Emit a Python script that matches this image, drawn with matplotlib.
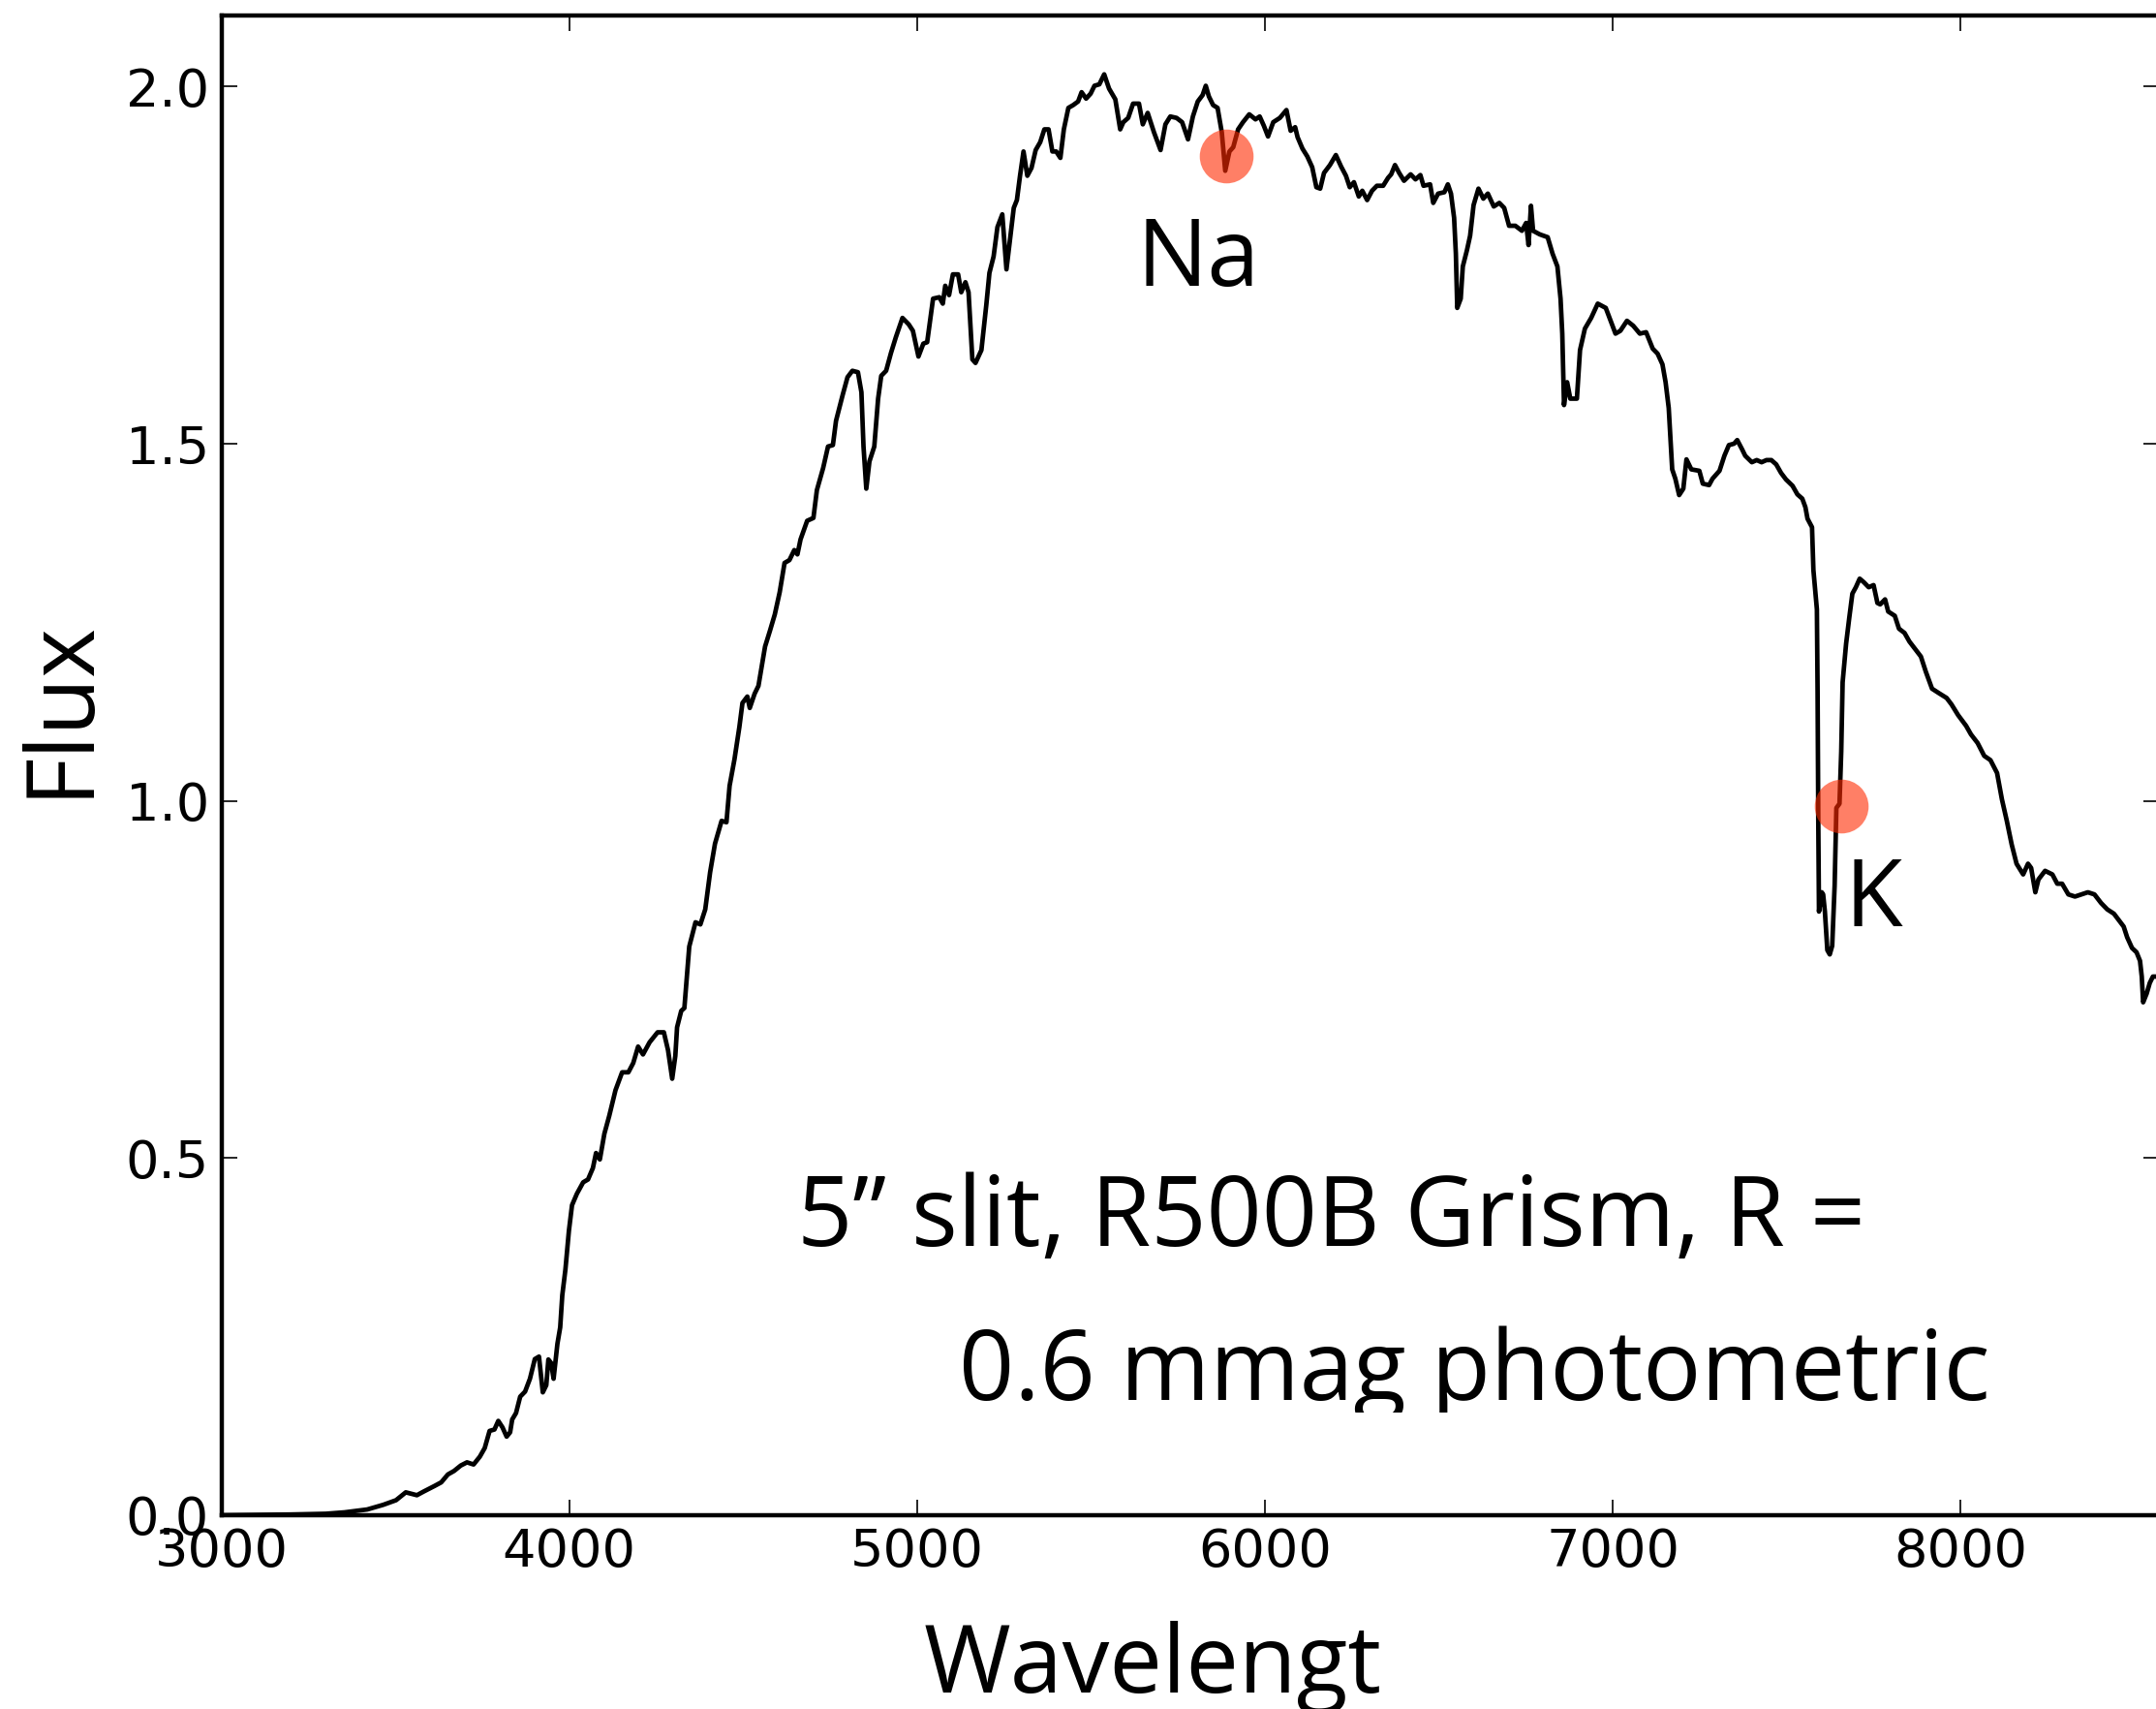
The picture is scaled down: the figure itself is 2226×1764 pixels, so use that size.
import matplotlib
matplotlib.use("Agg")
import matplotlib.pyplot as plt
from matplotlib.transforms import Bbox, TransformedBbox

# spectrum
wavelength = [3000, 3100, 3200, 3300, 3354, 3419, 3465, 3502, 3530, 3562, 3581, 3613, 3632,
              3651, 3669, 3688, 3706, 3725, 3743, 3757, 3771, 3785, 3796, 3808, 3820, 3830,
              3836, 3847, 3859, 3873, 3887, 3901, 3913, 3924, 3934, 3940, 3948, 3955, 3966,
              3974, 3980, 3989, 3999, 4008, 4022, 4040, 4054, 4068, 4077, 4088, 4101, 4115,
              4133, 4152, 4170, 4184, 4198, 4212, 4231, 4254, 4272, 4284, 4296, 4305, 4310,
              4322, 4331, 4345, 4363, 4377, 4391, 4405, 4419, 4438, 4452, 4461, 4475, 4489,
              4498, 4512, 4519, 4533, 4544, 4563, 4577, 4591, 4605, 4619, 4633, 4647, 4656,
              4665, 4684, 4702, 4712, 4730, 4744, 4758, 4767, 4786, 4800, 4814, 4830, 4840,
              4846, 4854, 4863, 4877, 4888, 4897, 4911, 4925, 4939, 4958, 4976, 4988, 5004,
              5018, 5029, 5046, 5064, 5074, 5081, 5092, 5103, 5118, 5127, 5139, 5148, 5159,
              5168, 5185, 5199, 5208, 5220, 5231, 5245, 5257, 5267, 5278, 5287, 5296, 5306,
              5317, 5329, 5341, 5354, 5366, 5378, 5389, 5400, 5412, 5422, 5435, 5449, 5463,
              5473, 5486, 5499, 5510, 5524, 5538, 5552, 5570, 5584, 5593, 5607, 5621, 5638,
              5649, 5663, 5681, 5700, 5714, 5728, 5746, 5762, 5779, 5793, 5807, 5821, 5830,
              5839, 5851, 5864, 5876, 5886, 5898, 5909, 5923, 5937, 5955, 5973, 5985, 5997,
              6009, 6024, 6043, 6062, 6074, 6087, 6094, 6108, 6122, 6136, 6148, 6159, 6170,
              6187, 6204, 6219, 6233, 6244, 6256, 6270, 6280, 6294, 6308, 6322, 6340, 6354,
              6363, 6374, 6386, 6400, 6419, 6433, 6447, 6456, 6475, 6484, 6498, 6516, 6526,
              6535, 6544, 6549, 6553, 6563, 6569, 6581, 6590, 6600, 6614, 6628, 6641, 6658,
              6674, 6688, 6702, 6720, 6739, 6751, 6758, 6765, 6771, 6790, 6813, 6827, 6841,
              6850, 6855, 6860, 6869, 6878, 6897, 6906, 6920, 6938, 6957, 6980, 6994, 7008,
              7022, 7041, 7059, 7078, 7096, 7115, 7129, 7143, 7152, 7161, 7171, 7180, 7191,
              7203, 7212, 7226, 7249, 7259, 7277, 7287, 7307, 7321, 7334, 7349, 7358, 7372,
              7381, 7400, 7414, 7428, 7442, 7456, 7470, 7484, 7498, 7517, 7531, 7545, 7554,
              7560, 7573, 7577, 7587, 7589, 7591, 7593, 7601, 7605, 7610, 7617, 7624, 7631,
              7638, 7643, 7652, 7657, 7661, 7671, 7680, 7689, 7699, 7710, 7722, 7736, 7750,
              7761, 7769, 7783, 7792, 7811, 7823, 7839, 7853, 7867, 7886, 7900, 7918, 7937,
              7960, 7974, 7993, 8016, 8030, 8049, 8068, 8086, 8105, 8119, 8133, 8147, 8161,
              8180, 8194, 8203, 8215, 8224, 8243, 8264, 8278, 8292, 8310, 8329, 8348, 8366,
              8385, 8404, 8422, 8441, 8455, 8469, 8479, 8493, 8506, 8516, 8521, 8525, 8535,
              8544, 8553, 8565]
flux = [0.000, 0.0005, 0.001, 0.002, 0.004, 0.008, 0.0145, 0.021, 0.032, 0.028, 0.033, 0.041,
        0.046, 0.057, 0.062, 0.0695, 0.074, 0.071, 0.082, 0.094, 0.118, 0.120, 0.132, 0.123,
        0.110, 0.116, 0.134, 0.143, 0.166, 0.173, 0.191, 0.2185, 0.222, 0.172, 0.182, 0.218,
        0.213, 0.191, 0.240, 0.263, 0.308, 0.344, 0.398, 0.434, 0.450, 0.466, 0.470, 0.486,
        0.507, 0.498, 0.534, 0.559, 0.595, 0.620, 0.620, 0.633, 0.656, 0.645, 0.662, 0.676,
        0.676, 0.651, 0.611, 0.643, 0.683, 0.706, 0.710, 0.796, 0.830, 0.827, 0.848, 0.900,
        0.940, 0.972, 0.970, 1.021, 1.058, 1.103, 1.137, 1.146, 1.130, 1.150, 1.161, 1.216,
        1.238, 1.261, 1.292, 1.333, 1.337, 1.351, 1.345, 1.366, 1.392, 1.396, 1.435, 1.466,
        1.496, 1.498, 1.532, 1.568, 1.593, 1.602, 1.600, 1.572, 1.496, 1.437, 1.475, 1.496,
        1.563, 1.595, 1.602, 1.627, 1.649, 1.676, 1.667, 1.658, 1.622, 1.640, 1.642, 1.703,
        1.705, 1.696, 1.721, 1.708, 1.737, 1.737, 1.712, 1.726, 1.712, 1.618, 1.613, 1.631,
        1.694, 1.739, 1.762, 1.803, 1.821, 1.744, 1.785, 1.830, 1.841, 1.875, 1.909, 1.875,
        1.886, 1.911, 1.922, 1.940, 1.940, 1.909, 1.909, 1.900, 1.940, 1.970, 1.974, 1.979,
        1.992, 1.983, 1.990, 2.001, 2.003, 2.017, 1.997, 1.982, 1.940, 1.950, 1.956, 1.976,
        1.976, 1.947, 1.963, 1.936, 1.911, 1.947, 1.958, 1.956, 1.950, 1.926, 1.958, 1.979,
        1.988, 2.001, 1.986, 1.974, 1.970, 1.936, 1.882, 1.909, 1.915, 1.940, 1.950, 1.961,
        1.954, 1.958, 1.945, 1.930, 1.950, 1.956, 1.967, 1.938, 1.943, 1.929, 1.913, 1.902,
        1.887, 1.859, 1.857, 1.879, 1.890, 1.904, 1.888, 1.875, 1.859, 1.866, 1.846, 1.854,
        1.841, 1.854, 1.861, 1.861, 1.872, 1.877, 1.890, 1.879, 1.868, 1.877, 1.870, 1.876,
        1.861, 1.863, 1.837, 1.850, 1.852, 1.863, 1.850, 1.816, 1.766, 1.690, 1.703, 1.748,
        1.771, 1.791, 1.834, 1.857, 1.843, 1.850, 1.832, 1.837, 1.830, 1.805, 1.805, 1.798,
        1.809, 1.778, 1.833, 1.798, 1.793, 1.789, 1.766, 1.748, 1.703, 1.654, 1.554, 1.586,
        1.563, 1.563, 1.631, 1.661, 1.676, 1.696, 1.690, 1.672, 1.654, 1.658, 1.672, 1.665,
        1.654, 1.656, 1.633, 1.626, 1.611, 1.586, 1.550, 1.464, 1.451, 1.428, 1.437, 1.478,
        1.464, 1.462, 1.444, 1.442, 1.451, 1.462, 1.483, 1.498, 1.500, 1.505, 1.492, 1.483,
        1.474, 1.477, 1.474, 1.477, 1.477, 1.471, 1.459, 1.450, 1.441, 1.429, 1.423, 1.411,
        1.395, 1.383, 1.323, 1.268, 1.154, 0.972, 0.845, 0.872, 0.869, 0.845, 0.791, 0.785,
        0.797, 0.881, 0.990, 0.996, 1.069, 1.166, 1.220, 1.256, 1.290, 1.299, 1.311, 1.306,
        1.299, 1.302, 1.277, 1.275, 1.282, 1.265, 1.259, 1.241, 1.235, 1.223, 1.214, 1.202,
        1.181, 1.157, 1.151, 1.144, 1.135, 1.120, 1.105, 1.093, 1.081, 1.063, 1.057, 1.039,
        1.002, 0.972, 0.939, 0.912, 0.897, 0.912, 0.906, 0.872, 0.890, 0.902, 0.897, 0.884,
        0.884, 0.869, 0.866, 0.869, 0.872, 0.869, 0.857, 0.848, 0.842, 0.833, 0.824, 0.809,
        0.794, 0.788, 0.776, 0.754, 0.718, 0.730, 0.745, 0.754, 0.754]

line_wave = [5888, 7656]
line_flux = [1.903, 0.993]
line_names = ['Na', 'K']
line_label_pos = [(5630, 1.721), (7668, 0.824)]

note_lines = ['5\u201d slit, R500B Grism, R =', '0.6 mmag photometric']
note_pos = [(4655, 0.3766), (5120, 0.161)]

big_font = 'Open Sans'

fig = plt.figure(figsize=(11.13, 8.82), dpi=200)
ax = fig.add_axes([0.1027, 0.1134, 0.8986, 0.8778])

ax.plot(wavelength, flux, color='black', lw=1.7, zorder=2)
ax.plot(line_wave, line_flux, 'o', color=(1.0, 0.165, 0.0), alpha=0.6,
        markersize=20, markeredgewidth=0, zorder=3)

for name, (x, y) in zip(line_names, line_label_pos):
    ax.text(x, y, name, fontsize=35, family=big_font, va='baseline', ha='left')

for txt, (x, y) in zip(note_lines, note_pos):
    t = ax.text(x, y, txt, fontsize=36, family=big_font, va='baseline', ha='left')

# the second line of the note is cut just under its baseline in the original
clip = TransformedBbox(Bbox([[3000, 0.1436], [8570, 2.1]]), ax.transData)
t.set_clip_on(True)
t.set_clip_box(clip)

ax.set_xlim(3000, 8570)
ax.set_ylim(0, 2.1)
ax.set_xticks([3000, 4000, 5000, 6000, 7000, 8000])
ax.set_yticks([0.0, 0.5, 1.0, 1.5, 2.0])
ax.tick_params(direction='in', top=True, right=True, length=5.8, width=0.6,
               labelsize=19.5, pad=4.5)
for s in ax.spines.values():
    s.set_linewidth(1.6)

ax.set_xlabel('Wavelengt', fontsize=35, family=big_font, va='baseline')
ax.xaxis.set_label_coords(0.4806, -0.118)
ax.set_ylabel('Flux', fontsize=35, family=big_font, va='baseline')
ax.yaxis.set_label_coords(-0.070, 0.538)

fig.savefig('out.png', dpi=200)
